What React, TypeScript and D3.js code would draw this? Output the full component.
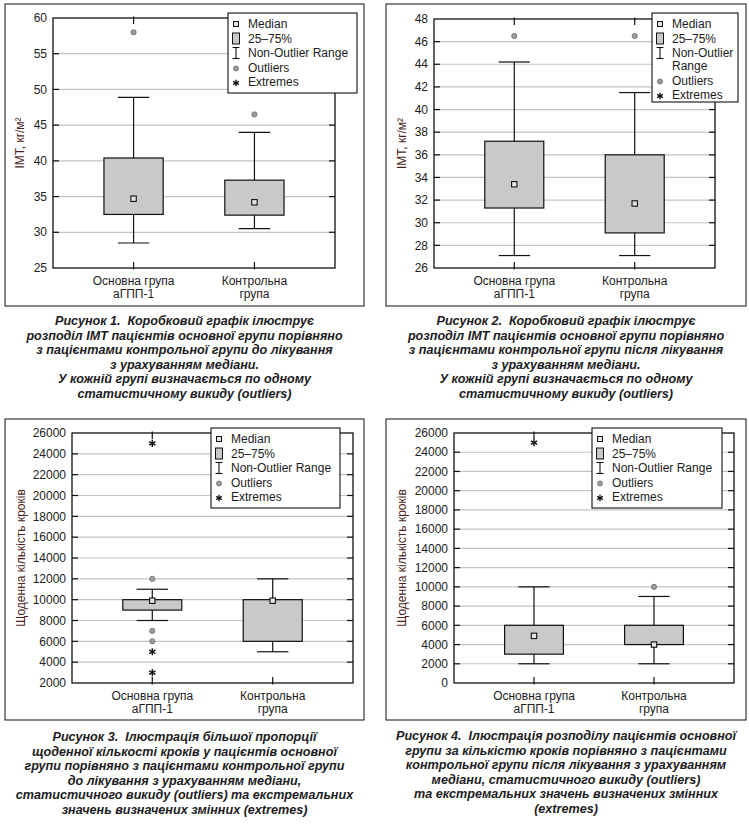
import * as d3 from "d3";

// Group labels (two lines each)
const groupLabels = [
  ["Основна група", "аГПП-1"],
  ["Контрольна", "група"],
];

const legendLabels = ["Median", "25–75%", "Non-Outlier Range", "Outliers", "Extremes"];
const legendLabelsWrapped = ["Median", "25–75%", "Non-Outlier\nRange", "Outliers", "Extremes"];

// Fig 1: BMI before treatment
const imtBeforeTicks = [25, 30, 35, 40, 45, 50, 55, 60];
const imtBeforeQ1 = [32.5, 32.4];
const imtBeforeMedian = [34.7, 34.2];
const imtBeforeQ3 = [40.4, 37.3];
const imtBeforeLow = [28.5, 30.5];
const imtBeforeHigh = [48.9, 44.0];
const imtBeforeOutliers = [[58.0], [46.5]];
const imtBeforeExtremes: number[][] = [[], []];

// Fig 2: BMI after treatment
const imtAfterTicks = [26, 28, 30, 32, 34, 36, 38, 40, 42, 44, 46, 48];
const imtAfterQ1 = [31.3, 29.1];
const imtAfterMedian = [33.4, 31.7];
const imtAfterQ3 = [37.2, 36.0];
const imtAfterLow = [27.1, 27.1];
const imtAfterHigh = [44.2, 41.5];
const imtAfterOutliers = [[46.5], [46.5]];
const imtAfterExtremes: number[][] = [[], []];

// Fig 3: daily steps before treatment
const stepsBeforeTicks = [2000, 4000, 6000, 8000, 10000, 12000, 14000, 16000, 18000, 20000, 22000, 24000, 26000];
const stepsBeforeQ1 = [9000, 6000];
const stepsBeforeMedian = [9900, 9900];
const stepsBeforeQ3 = [10000, 10000];
const stepsBeforeLow = [8000, 5000];
const stepsBeforeHigh = [11000, 12000];
const stepsBeforeOutliers = [[12000, 7000, 6000], []];
const stepsBeforeExtremes = [[25000, 5000, 3000], []];

// Fig 4: daily steps after treatment
const stepsAfterTicks = [0, 2000, 4000, 6000, 8000, 10000, 12000, 14000, 16000, 18000, 20000, 22000, 24000, 26000];
const stepsAfterQ1 = [3000, 4000];
const stepsAfterMedian = [4900, 4000];
const stepsAfterQ3 = [6000, 6000];
const stepsAfterLow = [2000, 2000];
const stepsAfterHigh = [10000, 9000];
const stepsAfterOutliers = [[], [10000]];
const stepsAfterExtremes = [[25000], []];

const caption1 = [
  "Рисунок 1.  Коробковий графік ілюструє",
  "розподіл ІМТ пацієнтів основної групи порівняно",
  "з пацієнтами контрольної групи до лікування",
  "з урахуванням медіани.",
  "У кожній групі визначається по одному",
  "статистичному викиду (outliers)",
];
const caption2 = [
  "Рисунок 2.  Коробковий графік ілюструє",
  "розподіл ІМТ пацієнтів основної групи порівняно",
  "з пацієнтами контрольної групи після лікування",
  "з урахуванням медіани.",
  "У кожній групі визначається по одному",
  "статистичному викиду (outliers)",
];
const caption3 = [
  "Рисунок 3.  Ілюстрація більшої пропорції",
  "щоденної кількості кроків у пацієнтів основної",
  "групи порівняно з пацієнтами контрольної групи",
  "до лікування з урахуванням медіани,",
  "статистичного викиду (outliers) та екстремальних",
  "значень визначених змінних (extremes)",
];
const caption4 = [
  "Рисунок 4.  Ілюстрація розподілу пацієнтів основної",
  "групи за кількістю кроків порівняно з пацієнтами",
  "контрольної групи після лікування з урахуванням",
  "медіани, статистичного викиду (outliers)",
  "та екстремальних значень визначених змінних",
  "(extremes)",
];

const FONT = "'Liberation Sans', Arial, Helvetica, sans-serif";
const BOX_FILL = "#c8c9cb";
const GRID = "#c4c4c4";
const TEXT = "#1c1c22";
const LABEL = "#4e1f22";

type Rect = [number, number, number, number];

interface PanelProps {
  frame: Rect;
  plot: Rect;
  ticks: number[];
  q1: number[];
  median: number[];
  q3: number[];
  low: number[];
  high: number[];
  outliers: number[][];
  extremes: number[][];
  yLabel: string;
  yLabelX: number;
  legendBox: Rect;
  legend: string[];
  caption: string[];
  captionY: number;
}

function Asterisk({ cx, cy, r }: { cx: number; cy: number; r: number }) {
  const angles = [90, 30, -30];
  return (
    <g stroke="#111" strokeWidth={1.4}>
      {angles.map((a) => {
        const t = (a * Math.PI) / 180;
        return (
          <line
            key={a}
            x1={cx - r * Math.cos(t)}
            y1={cy - r * Math.sin(t)}
            x2={cx + r * Math.cos(t)}
            y2={cy + r * Math.sin(t)}
          />
        );
      })}
    </g>
  );
}

function BoxPanel(p: PanelProps) {
  const [px0, py0, px1, py1] = p.plot;
  const [fx0, fy0, fx1, fy1] = p.frame;
  const y = d3
    .scaleLinear()
    .domain(d3.extent(p.ticks) as [number, number])
    .range([py1, py0]);
  const x = d3
    .scalePoint<number>()
    .domain(d3.range(groupLabels.length))
    .range([px0, px1])
    .padding(2 / 3);
  const step = x.step();
  const boxW = step * 0.49;
  const capW = step * 0.26;
  const tickLen = 6;
  const inner = p.ticks.slice(1, -1);

  // legend layout
  const [lx0, ly0, lx1, ly1] = p.legendBox;
  const symX = lx0 + 8;
  const textX = lx0 + 20;
  let rowY = ly0 + 11;
  const rows = p.legend.map((label) => {
    const lines = label.split("\n");
    const r = { lines, y: rowY };
    rowY += 14.5 + (lines.length - 1) * 13;
    return r;
  });

  const midY = (py0 + py1) / 2;
  const cx = (fx0 + fx1) / 2;

  return (
    <g fontFamily={FONT}>
      <rect x={fx0} y={fy0} width={fx1 - fx0} height={fy1 - fy0} fill="none" stroke="#111" strokeWidth={1} />

      {/* gridlines */}
      {inner.map((t) => (
        <line key={t} x1={px0} x2={px1} y1={y(t)} y2={y(t)} stroke={GRID} strokeWidth={1.2} />
      ))}

      {/* boxes */}
      {groupLabels.map((_, i) => {
        const c = x(i)!;
        return (
          <g key={i}>
            <line x1={c} x2={c} y1={y(p.high[i])} y2={y(p.q3[i])} stroke="#111" strokeWidth={1.2} />
            <line x1={c} x2={c} y1={y(p.q1[i])} y2={y(p.low[i])} stroke="#111" strokeWidth={1.2} />
            <line x1={c - capW / 2} x2={c + capW / 2} y1={y(p.high[i])} y2={y(p.high[i])} stroke="#111" strokeWidth={1.2} />
            <line x1={c - capW / 2} x2={c + capW / 2} y1={y(p.low[i])} y2={y(p.low[i])} stroke="#111" strokeWidth={1.2} />
            <rect
              x={c - boxW / 2}
              y={y(p.q3[i])}
              width={boxW}
              height={y(p.q1[i]) - y(p.q3[i])}
              fill={BOX_FILL}
              stroke="#111"
              strokeWidth={1.2}
            />
            <rect x={c - 2.7} y={y(p.median[i]) - 2.7} width={5.4} height={5.4} fill="#e4e4e4" stroke="#111" strokeWidth={1.1} />
            {p.outliers[i].map((v, k) => (
              <circle key={k} cx={c} cy={y(v)} r={2.6} fill="#9c9c9c" stroke="#6a6a6a" strokeWidth={0.8} />
            ))}
            {p.extremes[i].map((v, k) => (
              <Asterisk key={k} cx={c} cy={y(v)} r={3.6} />
            ))}
          </g>
        );
      })}

      {/* plot border and ticks */}
      <rect x={px0} y={py0} width={px1 - px0} height={py1 - py0} fill="none" stroke="#111" strokeWidth={1.3} />
      {inner.map((t) => (
        <g key={t} stroke="#111" strokeWidth={1.2}>
          <line x1={px0} x2={px0 + tickLen} y1={y(t)} y2={y(t)} />
          <line x1={px1 - tickLen} x2={px1} y1={y(t)} y2={y(t)} />
        </g>
      ))}
      {groupLabels.map((_, i) => (
        <g key={i} stroke="#111" strokeWidth={1.2}>
          <line x1={x(i)!} x2={x(i)!} y1={py0 - 1.5} y2={py0 + tickLen} />
          <line x1={x(i)!} x2={x(i)!} y1={py1 - tickLen} y2={py1 + 1.5} />
        </g>
      ))}

      {/* y tick labels */}
      {p.ticks.map((t) => (
        <text key={t} x={px0 - 6} y={y(t)} dy="0.35em" textAnchor="end" fontSize={12} fill={TEXT}>
          {t}
        </text>
      ))}

      {/* x labels */}
      {groupLabels.map((lines, i) => (
        <text key={i} x={x(i)!} y={py1 + 16.5} textAnchor="middle" fontSize={12} fill={TEXT}>
          {lines.map((l, k) => (
            <tspan key={k} x={x(i)!} dy={k === 0 ? 0 : 13.4}>
              {l}
            </tspan>
          ))}
        </text>
      ))}

      {/* y label */}
      <text
        transform={`translate(${p.yLabelX},${midY}) rotate(-90)`}
        textAnchor="middle"
        fontSize={12}
        fill={LABEL}
      >
        {p.yLabel}
      </text>

      {/* legend */}
      <rect x={lx0} y={ly0} width={lx1 - lx0} height={ly1 - ly0} fill="#fff" stroke="#111" strokeWidth={1.1} />
      {rows.map((r, k) => (
        <g key={k}>
          {k === 0 && (
            <rect x={symX - 2.5} y={r.y - 2.5} width={5} height={5} fill="#e4e4e4" stroke="#111" strokeWidth={1} />
          )}
          {k === 1 && (
            <rect x={symX - 3.5} y={r.y - 5.5} width={7} height={11} fill={BOX_FILL} stroke="#111" strokeWidth={1} />
          )}
          {k === 2 && (
            <g stroke="#111" strokeWidth={1.1}>
              <line x1={symX} x2={symX} y1={r.y - 5.5} y2={r.y + 5.5} />
              <line x1={symX - 3.5} x2={symX + 3.5} y1={r.y - 5.5} y2={r.y - 5.5} />
              <line x1={symX - 3.5} x2={symX + 3.5} y1={r.y + 5.5} y2={r.y + 5.5} />
            </g>
          )}
          {k === 3 && <circle cx={symX} cy={r.y + 1} r={2.5} fill="#9c9c9c" stroke="#6a6a6a" strokeWidth={0.8} />}
          {k === 4 && <Asterisk cx={symX} cy={r.y + 1} r={3.3} />}
          <text x={textX} y={r.y} fontSize={12} fill={TEXT}>
            {r.lines.map((l, j) => (
              <tspan key={j} x={textX} dy={j === 0 ? "0.35em" : 13}>
                {l}
              </tspan>
            ))}
          </text>
        </g>
      ))}

      {/* caption */}
      <text
        x={cx}
        y={p.captionY}
        textAnchor="middle"
        fontSize={12.6}
        fontWeight="bold"
        fontStyle="italic"
        fill={TEXT}
        style={{ whiteSpace: "pre" }}
      >
        {p.caption.map((l, k) => (
          <tspan key={k} x={cx} dy={k === 0 ? 0 : 14.5}>
            {l}
          </tspan>
        ))}
      </text>
    </g>
  );
}

export default function App() {
  return (
    <svg
      width={749}
      height={824}
      viewBox="0 0 749 824"
      style={{ position: "absolute", left: 0, top: 0, background: "#fff" }}
    >
      <BoxPanel
        frame={[5, 4, 364, 306]}
        plot={[53, 18, 335, 268]}
        ticks={imtBeforeTicks}
        q1={imtBeforeQ1}
        median={imtBeforeMedian}
        q3={imtBeforeQ3}
        low={imtBeforeLow}
        high={imtBeforeHigh}
        outliers={imtBeforeOutliers}
        extremes={imtBeforeExtremes}
        yLabel="ІМТ, кг/м²"
        yLabelX={24}
        legendBox={[228, 13, 357, 93]}
        legend={legendLabels}
        caption={caption1}
        captionY={325}
      />
      <BoxPanel
        frame={[386, 4, 746, 306]}
        plot={[434, 19, 715, 268]}
        ticks={imtAfterTicks}
        q1={imtAfterQ1}
        median={imtAfterMedian}
        q3={imtAfterQ3}
        low={imtAfterLow}
        high={imtAfterHigh}
        outliers={imtAfterOutliers}
        extremes={imtAfterExtremes}
        yLabel="ІМТ, кг/м²"
        yLabelX={406}
        legendBox={[652, 13, 738, 102]}
        legend={legendLabelsWrapped}
        caption={caption2}
        captionY={325}
      />
      <BoxPanel
        frame={[5, 419, 364, 720]}
        plot={[72, 433, 353, 683]}
        ticks={stepsBeforeTicks}
        q1={stepsBeforeQ1}
        median={stepsBeforeMedian}
        q3={stepsBeforeQ3}
        low={stepsBeforeLow}
        high={stepsBeforeHigh}
        outliers={stepsBeforeOutliers}
        extremes={stepsBeforeExtremes}
        yLabel="Щоденна кількість кроків"
        yLabelX={25}
        legendBox={[211, 428, 340, 508]}
        legend={legendLabels}
        caption={caption3}
        captionY={741}
      />
      <BoxPanel
        frame={[386, 419, 746, 720]}
        plot={[454, 433, 734, 683]}
        ticks={stepsAfterTicks}
        q1={stepsAfterQ1}
        median={stepsAfterMedian}
        q3={stepsAfterQ3}
        low={stepsAfterLow}
        high={stepsAfterHigh}
        outliers={stepsAfterOutliers}
        extremes={stepsAfterExtremes}
        yLabel="Щоденна кількість кроків"
        yLabelX={406}
        legendBox={[592, 428, 722, 508]}
        legend={legendLabels}
        caption={caption4}
        captionY={740}
      />
    </svg>
  );
}
